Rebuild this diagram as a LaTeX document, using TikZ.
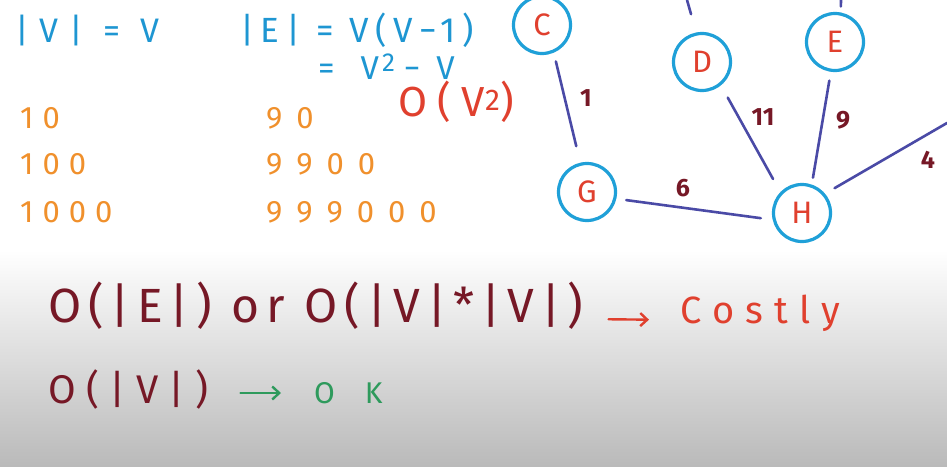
\documentclass[tikz,border=0pt]{standalone}
\usepackage{fontspec}
\setmainfont{Fira Sans}
\usetikzlibrary{arrows.meta}

\definecolor{inkcyan}{HTML}{1E96D2}
\definecolor{ringcyan}{HTML}{1FA0D8}
\definecolor{inkorange}{HTML}{F0902C}
\definecolor{inkred}{HTML}{E0402E}
\definecolor{inkwine}{HTML}{761826}
\definecolor{inkedge}{HTML}{4A4AA6}
\definecolor{inkgreen}{HTML}{2E9A5C}
\definecolor{boardgray}{HTML}{BABABA}

\newcommand{\hand}[2]{\fontsize{#1}{#1}\selectfont\addfontfeatures{LetterSpace=#2}}
\newcommand{\sqtwo}[2]{\raisebox{#2}{\fontsize{#1}{#1}\selectfont 2}}

\begin{document}
\begin{tikzpicture}[x=1pt, y=-1pt, line cap=round, line join=round,
  vertex/.style={circle, draw=ringcyan, line width=3.2pt, minimum size=57pt,
    inner sep=0pt, text=inkred, font={\hand{31}{0}}},
  link/.style={draw=inkedge, line width=2.6pt},
  weight/.style={text=inkwine, font={\hand{25}{0}\bfseries}},
  note/.style={anchor=base west, inner sep=0pt},
  goes/.style={-{Straight Barb[length=7pt, width=13pt]}, line width=2.4pt}]

  %--------------------------
  % Board
  %--------------------------
  \fill[white] (0,0) rectangle (947,466);
  \shade[top color=white, bottom color=boardgray] (0,250) rectangle (947,466);
  \useasboundingbox (0,0) rectangle (947,466);

  %--------------------------
  % Counts
  %--------------------------
  \node[note, text=inkcyan, font={\hand{34}{32}}] (vcount) at (15,42) {|V| = V};
  \node[note, text=inkcyan, font={\hand{35}{19}}] (ecount) at (240,42) {|E| = V(V−1)};
  \node[note, text=inkcyan, font={\hand{33}{0}}, text depth=1pt] (esquare) at (318,79)
    {=\hspace{26pt}V\hspace{3pt}\sqtwo{26}{8pt}\hspace{9pt}−\hspace{16pt}V};
  \node[note, text=inkred, font={\hand{42}{25}}, text height=30pt] (bigo) at (398,116)
    {O(V\sqtwo{30}{6pt})};

  % Sample sizes
  \foreach \v/\e/\y in {10/90/128, 100/9900/174, 1000/999000/222} {
    \node[note, text=inkorange, font={\hand{31}{29}}] (v\v) at (20,\y) {\v};
    \node[note, text=inkorange, font={\hand{31}{45}}] (e\v) at (266,\y) {\e};
  }

  %--------------------------
  % Graph
  %--------------------------
  \node[vertex] (C) at (542,25) {C};
  \node[vertex] (D) at (702,62) {D};
  \node[vertex] (E) at (835,42) {E};
  \node[vertex] (G) at (587,192) {G};
  \node[vertex] (H) at (802,213) {H};
  \coordinate (Dup) at (687,0);
  \coordinate (Eup) at (841,0);
  \coordinate (Hout) at (947,123);

  \draw[link, shorten <=9pt, shorten >=17pt] (C.-67) -- (G.103);
  \draw[link, shorten <=14pt, shorten >=15pt] (D.-51) -- (H.136);
  \draw[link, shorten <=9pt, shorten >=7pt] (E.-98) -- (H.71);
  \draw[link, shorten <=10pt, shorten >=12pt] (G.-13) -- (H.193);
  \draw[link, shorten <=11pt] (H.40) -- (Hout);
  \draw[link, shorten <=19pt] (D.101) -- (Dup);
  \draw[link, shorten <=6pt] (E.79) -- (Eup);

  \node[weight] (w1) at (586,98) {1};
  \node[weight] (w11) at (763,117) {11};
  \node[weight] (w9) at (843,120) {9};
  \node[weight] (w6) at (683,188) {6};
  \node[weight] (w4) at (928,160) {4};

  %--------------------------
  % Cost
  %--------------------------
  \node[note, text=inkwine, font={\hand{48}{14.5}}] (costexpr) at (48,322) {O(|E|) or O(|V|*|V|)};
  \node[note, text=inkred, font={\hand{38}{30}}] (costly) at (680,323) {Costly};
  \draw[goes, inkred, shorten <=25pt, shorten >=31pt]
    ([yshift=3pt]costexpr.base east) -- ([yshift=3pt]costly.base west);

  \node[note, text=inkwine, font={\hand{40}{26}}] (cheapexpr) at (48,403) {O(|V|)};
  \node[note, text=inkgreen, font={\hand{30}{100}}] (okay) at (314,403) {OK};
  \draw[goes, inkgreen, shorten <=32pt, shorten >=33pt]
    ([yshift=10pt]cheapexpr.base east) -- ([yshift=10pt]okay.base west);

\end{tikzpicture}
\end{document}
